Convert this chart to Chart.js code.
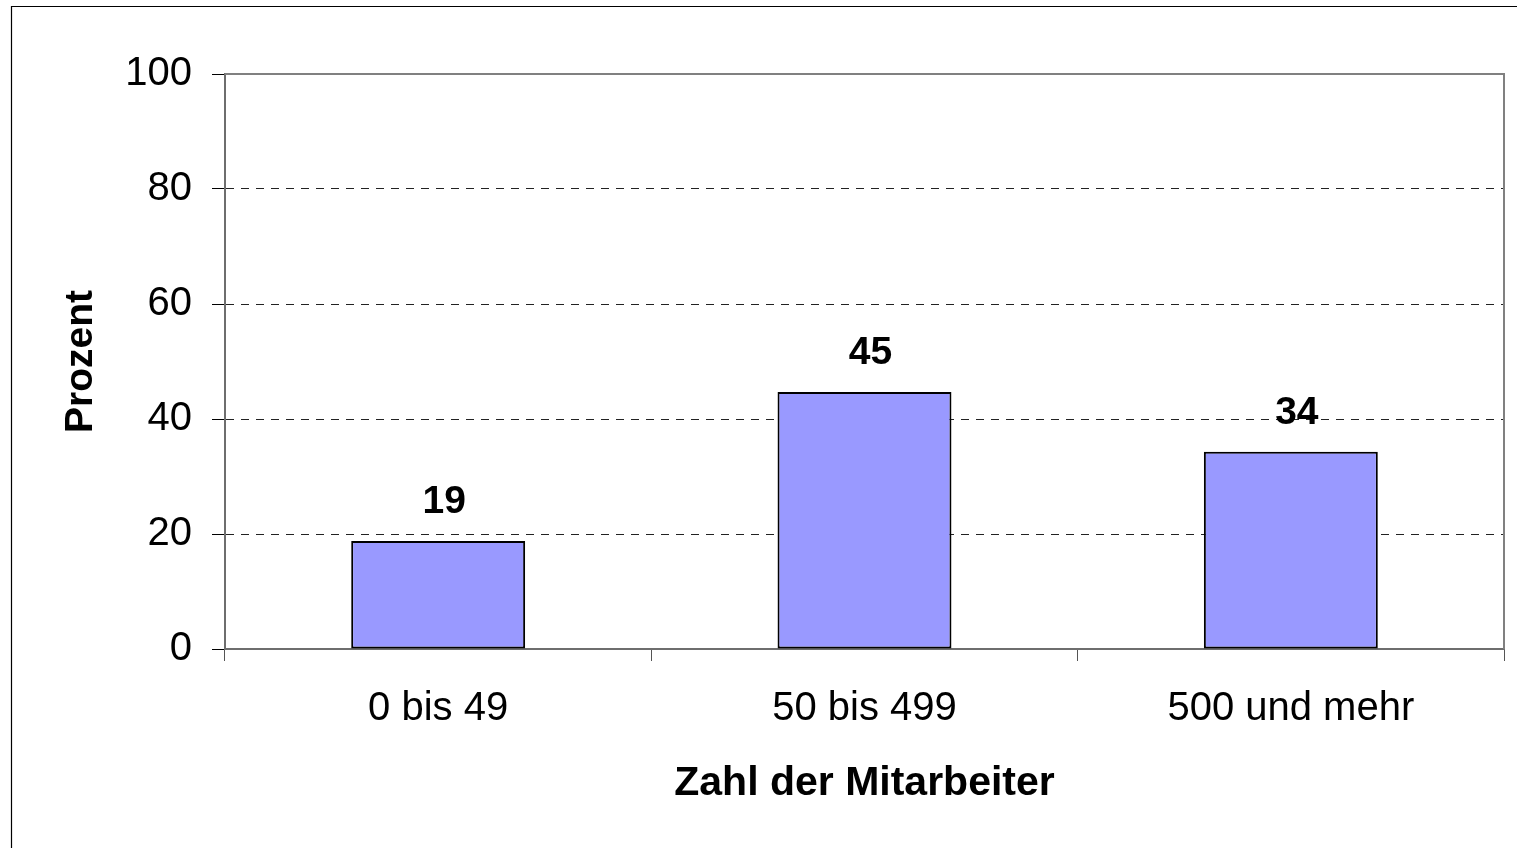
<!DOCTYPE html>
<html>
<head>
<meta charset="utf-8">
<script src="https://cdn.jsdelivr.net/npm/chart.js@4/dist/chart.umd.min.js"></script>
<style>
html,body{margin:0;padding:0;background:#fff;}
canvas{display:block;}
</style>
</head>
<body>
<canvas id="c" width="1517" height="848"></canvas>
<script>
const categories = ["0 bis 49", "50 bis 499", "500 und mehr"];
const values = [18.8, 44.7, 34.3];
const valueLabels = ["19", "45", "34"];
const yTicks = [0, 20, 40, 60, 80, 100];
const yTitle = "Prozent";
const xTitle = "Zahl der Mitarbeiter";

const FONT = "'Liberation Sans', Arial, sans-serif";

const framePlugin = {
  id: 'frame',
  beforeDraw(chart) {
    const ctx = chart.ctx;
    ctx.save();
    ctx.fillStyle = '#fff';
    ctx.fillRect(0, 0, chart.width, chart.height);
    ctx.strokeStyle = '#000';
    ctx.lineWidth = 1.2;
    ctx.beginPath();
    ctx.moveTo(11.5, chart.height + 5);
    ctx.lineTo(11.5, 6.5);
    ctx.lineTo(chart.width + 5, 6.5);
    ctx.stroke();
    ctx.restore();
  },
  afterDatasetsDraw(chart) {
    const ctx = chart.ctx;
    const a = chart.chartArea;
    ctx.save();
    ctx.strokeStyle = '#808080';
    ctx.lineWidth = 2;
    ctx.beginPath();
    ctx.moveTo(a.left, a.top);
    ctx.lineTo(a.right, a.top);
    ctx.lineTo(a.right, a.bottom);
    ctx.stroke();
    const meta = chart.getDatasetMeta(0);
    ctx.fillStyle = '#000';
    ctx.font = "bold 39px " + FONT;
    ctx.textAlign = 'center';
    ctx.textBaseline = 'alphabetic';
    meta.data.forEach((bar, i) => {
      ctx.fillText(valueLabels[i], bar.x + 6, bar.y - 28);
    });
    ctx.restore();
  }
};

new Chart(document.getElementById('c'), {
  type: 'bar',
  data: {
    labels: categories,
    datasets: [{
      data: values,
      backgroundColor: '#9999FF',
      borderColor: '#000',
      borderWidth: 2,
      borderSkipped: false,
      barPercentage: 0.408,
      categoryPercentage: 1.0
    }]
  },
  options: {
    responsive: false,
    animation: false,
    devicePixelRatio: 1,
    layout: { padding: { top: 74, right: 13, left: 0, bottom: 0 } },
    plugins: { legend: { display: false }, tooltip: { enabled: false } },
    scales: {
      x: {
        offset: true,
        afterFit(scale) { scale.height = 199; },
        border: { display: true, color: '#6e6e6e', width: 2 },
        grid: {
          offset: true,
          drawOnChartArea: false,
          drawTicks: true,
          tickLength: 12,
          tickColor: '#555',
          tickWidth: 1
        },
        ticks: {
          color: '#000',
          padding: 24,
          font: { family: FONT, size: 40 }
        },
        title: {
          display: true,
          text: xTitle,
          color: '#000',
          font: { family: FONT, size: 41, weight: 'bold' },
          padding: { top: 0, bottom: 40 }
        }
      },
      y: {
        min: 0,
        max: 100,
        afterFit(scale) { scale.width = 225; },
        afterBuildTicks(scale) { scale.ticks = yTicks.map(v => ({ value: v })); },
        border: { display: true, color: '#6e6e6e', width: 2, dash: [8, 7] },
        grid: {
          color: (c) => (c.tick && (c.tick.value === 0 || c.tick.value === 100)) ? 'rgba(0,0,0,0)' : '#222',
          lineWidth: 1,
          tickBorderDash: [],
          tickLength: 13,
          tickColor: '#000',
          tickWidth: 1
        },
        ticks: {
          color: '#000',
          padding: 20,
          stepSize: 20,
          font: { family: FONT, size: 40 }
        },
        title: {
          display: true,
          text: yTitle,
          color: '#000',
          font: { family: FONT, size: 39, weight: 'bold' },
          padding: { top: 58, bottom: 0 }
        }
      }
    }
  },
  plugins: [framePlugin]
});
</script>
</body>
</html>
